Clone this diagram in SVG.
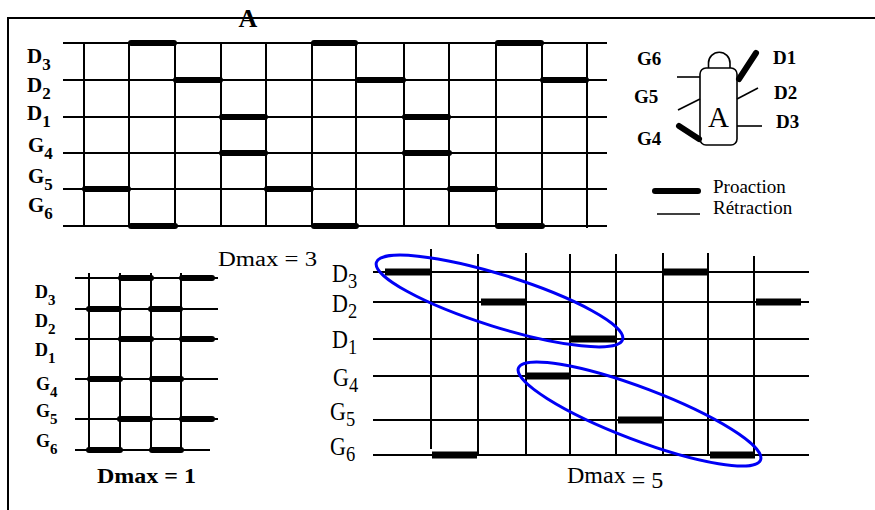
<svg xmlns="http://www.w3.org/2000/svg" width="875" height="510" viewBox="0 0 875 510">
  <style>
    .frame { stroke: #000; stroke-width: 2; fill: none; }
    .grid { stroke: #000; stroke-width: 2; fill: none; }
    .pro { stroke: #000; stroke-width: 6; stroke-linecap: round; fill: none; }
    .bar { fill: #000; }
    .thin { stroke: #000; stroke-width: 1.6; fill: none; }
    .ell { stroke: #0000f5; stroke-width: 3; fill: none; }
    .lb { font-family: "Liberation Serif", "Times New Roman", serif; font-weight: bold; fill: #000; }
    .lr { font-family: "Liberation Serif", "Times New Roman", serif; fill: #000; }
  </style>

  <!-- frame -->
  <g id="frame">
    <line class="frame" x1="8" y1="18" x2="875" y2="18"/>
    <line class="frame" x1="8" y1="17" x2="8" y2="510"/>
    <text class="lb" x="248" y="27" font-size="26" text-anchor="middle">A</text>
  </g>

  <!-- top-left chart: gait sequence A -->
  <g id="chart-a">
    <g class="grid">
      <line x1="63" y1="43" x2="607" y2="43"/>
      <line x1="63" y1="80" x2="607" y2="80"/>
      <line x1="63" y1="117" x2="607" y2="117"/>
      <line x1="63" y1="153" x2="607" y2="153"/>
      <line x1="63" y1="189" x2="607" y2="189"/>
      <line x1="63" y1="226" x2="607" y2="226"/>
      <line x1="84" y1="43" x2="84" y2="226"/>
      <line x1="129" y1="43" x2="129" y2="226"/>
      <line x1="175" y1="43" x2="175" y2="226"/>
      <line x1="221" y1="43" x2="221" y2="226"/>
      <line x1="266" y1="43" x2="266" y2="226"/>
      <line x1="312" y1="43" x2="312" y2="226"/>
      <line x1="356" y1="43" x2="356" y2="226"/>
      <line x1="404" y1="43" x2="404" y2="226"/>
      <line x1="449" y1="43" x2="449" y2="226"/>
      <line x1="496" y1="43" x2="496" y2="226"/>
      <line x1="542" y1="43" x2="542" y2="226"/>
      <line x1="587" y1="43" x2="587" y2="228"/>
    </g>
    <g class="pro">
      <line x1="131" y1="43" x2="174" y2="43"/>
      <line x1="314" y1="43" x2="355" y2="43"/>
      <line x1="498" y1="43" x2="541" y2="43"/>
      <line x1="176" y1="80" x2="220" y2="80"/>
      <line x1="358" y1="80" x2="403" y2="80"/>
      <line x1="543" y1="80" x2="586" y2="80"/>
      <line x1="222" y1="117" x2="265" y2="117"/>
      <line x1="405" y1="117" x2="448" y2="117"/>
      <line x1="222" y1="153" x2="265" y2="153"/>
      <line x1="405" y1="153" x2="449" y2="153"/>
      <line x1="85" y1="189" x2="128" y2="189"/>
      <line x1="267" y1="189" x2="311" y2="189"/>
      <line x1="450" y1="189" x2="495" y2="189"/>
      <line x1="131" y1="226" x2="175" y2="226"/>
      <line x1="314" y1="226" x2="356" y2="226"/>
      <line x1="498" y1="226" x2="542" y2="226"/>
    </g>
    <g class="lb" font-size="21">
      <text x="27" y="63">D<tspan font-size="17" dy="7">3</tspan></text>
      <text x="27" y="92">D<tspan font-size="17" dy="7">2</tspan></text>
      <text x="27" y="120">D<tspan font-size="17" dy="7">1</tspan></text>
      <text x="28" y="152">G<tspan font-size="17" dy="7">4</tspan></text>
      <text x="28" y="183">G<tspan font-size="17" dy="7">5</tspan></text>
      <text x="28" y="212">G<tspan font-size="17" dy="7">6</tspan></text>
    </g>
  </g>

  <!-- top-right: animal pictogram with legs -->
  <g id="pictogram">
    <rect class="thin" x="700" y="68" width="37" height="77" rx="6"/>
    <path class="thin" d="M708.5,68 L708.5,63 A10.75,10.75 0 0 1 730,63 L730,68"/>
    <text class="lr" x="718.5" y="127" font-size="29" text-anchor="middle">A</text>
    <line class="thin" x1="677" y1="77" x2="700" y2="77"/>
    <line class="thin" x1="678" y1="110" x2="700" y2="99"/>
    <line class="pro" x1="679" y1="126" x2="699" y2="139"/>
    <line class="pro" x1="739" y1="79" x2="756" y2="53"/>
    <line class="thin" x1="737" y1="99" x2="758" y2="88"/>
    <line class="thin" x1="737" y1="126" x2="762" y2="126"/>
    <g class="lb" font-size="19">
      <text x="637" y="65">G6</text>
      <text x="634" y="103">G5</text>
      <text x="637" y="145">G4</text>
      <text x="773" y="64">D1</text>
      <text x="774" y="99">D2</text>
      <text x="776" y="128">D3</text>
    </g>
  </g>

  <!-- legend -->
  <g id="legend">
    <line class="pro" x1="655" y1="191" x2="698" y2="191" stroke-width="7"/>
    <line class="thin" x1="657" y1="214" x2="700" y2="214"/>
    <text class="lr" x="713" y="193" font-size="19">Proaction</text>
    <text class="lr" x="713" y="214" font-size="19">Rétraction</text>
  </g>

  <text class="lr" x="218" y="266" font-size="20" textLength="99" lengthAdjust="spacingAndGlyphs">Dmax = 3</text>

  <!-- bottom-left chart: Dmax = 1 -->
  <g id="chart-dmax1">
    <g class="grid">
      <line x1="75" y1="278" x2="218" y2="278"/>
      <line x1="75" y1="309" x2="218" y2="309"/>
      <line x1="75" y1="339" x2="218" y2="339"/>
      <line x1="75" y1="379" x2="218" y2="379"/>
      <line x1="75" y1="419" x2="218" y2="419"/>
      <line x1="75" y1="450" x2="210" y2="450"/>
      <line x1="89" y1="273" x2="89" y2="450"/>
      <line x1="120" y1="273" x2="120" y2="450"/>
      <line x1="151" y1="273" x2="151" y2="450"/>
      <line x1="181" y1="273" x2="181" y2="450"/>
    </g>
    <g class="pro">
      <line x1="121" y1="278" x2="151" y2="278"/>
      <line x1="182" y1="278" x2="212" y2="278"/>
      <line x1="89" y1="309" x2="119" y2="309"/>
      <line x1="151" y1="309" x2="180" y2="309"/>
      <line x1="121" y1="339" x2="151" y2="339"/>
      <line x1="182" y1="339" x2="212" y2="339"/>
      <line x1="90" y1="379" x2="120" y2="379"/>
      <line x1="152" y1="379" x2="181" y2="379"/>
      <line x1="120" y1="419" x2="150" y2="419"/>
      <line x1="182" y1="419" x2="212" y2="419"/>
      <line x1="89" y1="450" x2="120" y2="450"/>
      <line x1="152" y1="450" x2="181" y2="450"/>
    </g>
    <g class="lb" font-size="18">
      <text x="35" y="298">D<tspan font-size="15" dy="7">3</tspan></text>
      <text x="35" y="327">D<tspan font-size="15" dy="7">2</tspan></text>
      <text x="35" y="356">D<tspan font-size="15" dy="7">1</tspan></text>
      <text x="36" y="390">G<tspan font-size="15" dy="7">4</tspan></text>
      <text x="36" y="417">G<tspan font-size="15" dy="7">5</tspan></text>
      <text x="36" y="447">G<tspan font-size="15" dy="7">6</tspan></text>
    </g>
    <text class="lb" x="97" y="483" font-size="20" textLength="99" lengthAdjust="spacingAndGlyphs">Dmax = 1</text>
  </g>

  <!-- bottom-right chart: Dmax = 5 -->
  <g id="chart-dmax5">
    <g class="grid">
      <line x1="373" y1="272" x2="809" y2="272"/>
      <line x1="373" y1="302" x2="809" y2="302"/>
      <line x1="373" y1="339" x2="809" y2="339"/>
      <line x1="373" y1="376" x2="809" y2="376"/>
      <line x1="373" y1="420" x2="809" y2="420"/>
      <line x1="373" y1="455" x2="809" y2="455"/>
      <line x1="431" y1="249" x2="431" y2="449"/>
      <line x1="478" y1="254" x2="478" y2="455"/>
      <line x1="526" y1="253" x2="526" y2="455"/>
      <line x1="570" y1="254" x2="570" y2="455"/>
      <line x1="616" y1="254" x2="616" y2="455"/>
      <line x1="663" y1="253" x2="663" y2="455"/>
      <line x1="708" y1="253" x2="708" y2="455"/>
      <line x1="754" y1="256" x2="754" y2="455"/>
    </g>
    <g class="bar">
      <rect x="385" y="268.5" width="46" height="7"/>
      <rect x="664" y="268.5" width="44" height="7"/>
      <rect x="481" y="298.5" width="45" height="7"/>
      <rect x="756" y="298.5" width="45" height="7"/>
      <rect x="571" y="335.5" width="45" height="7"/>
      <rect x="527" y="372.5" width="43" height="7"/>
      <rect x="618" y="416.5" width="45" height="7"/>
      <rect x="432" y="451.5" width="45" height="7"/>
      <rect x="710" y="451.5" width="45" height="7"/>
    </g>
    <g class="lr" font-size="25">
      <text transform="translate(332,282) scale(0.88,1)">D<tspan font-size="21" dy="6">3</tspan></text>
      <text transform="translate(332,312) scale(0.88,1)">D<tspan font-size="21" dy="6">2</tspan></text>
      <text transform="translate(332,348) scale(0.88,1)">D<tspan font-size="21" dy="6">1</tspan></text>
      <text transform="translate(333,386) scale(0.88,1)">G<tspan font-size="21" dy="6">4</tspan></text>
      <text transform="translate(330,420) scale(0.88,1)">G<tspan font-size="21" dy="6">5</tspan></text>
      <text transform="translate(330,455) scale(0.88,1)">G<tspan font-size="21" dy="6">6</tspan></text>
    </g>
    <text class="lr" x="567" y="483" font-size="24">Dmax <tspan dy="5">= 5</tspan></text>
  </g>

  <!-- groupings of legs in the Dmax = 5 sequence -->
  <g id="groups">
    <ellipse class="ell" cx="499.5" cy="301" rx="129" ry="26" transform="rotate(17.4 499.5 301)"/>
    <ellipse class="ell" cx="639.5" cy="414" rx="129.5" ry="26" transform="rotate(20.8 639.5 414)"/>
  </g>
</svg>
